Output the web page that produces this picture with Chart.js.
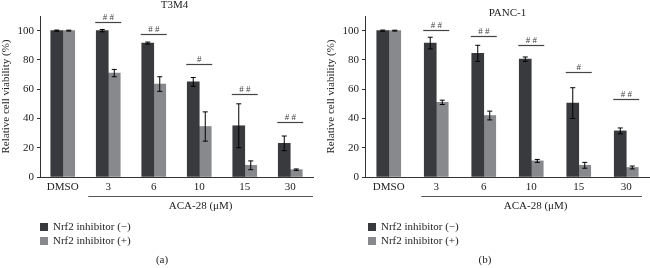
<!DOCTYPE html>
<html><head><meta charset="utf-8">
<script src="https://cdn.jsdelivr.net/npm/chart.js@4.4.1/dist/chart.umd.min.js"></script>
<style>
html,body{margin:0;padding:0;background:#fff;}
#wrap{position:relative;width:650px;height:268px;overflow:hidden;}
.pane{position:absolute;top:0;width:325px;height:268px;}
</style></head>
<body>
<div id="wrap">
<div class="pane" style="left:0"><canvas id="ca" width="325" height="268"></canvas></div>
<div class="pane" style="left:325px"><canvas id="cb" width="325" height="268"></canvas></div>
</div>
<script>
const categories = ["DMSO", "3", "6", "10", "15", "30"];
const seriesNames = ["Nrf2 inhibitor (\u2212)", "Nrf2 inhibitor (+)"];
const yTicks = [0, 20, 40, 60, 80, 100];

const t3m4Minus = [100, 100, 91.5, 65, 35, 23];
const t3m4MinusErr = [0.4, 0.8, 0.7, 3, 15, 5];
const t3m4Plus = [100, 71, 63.5, 34.5, 8, 5];
const t3m4PlusErr = [0.3, 2.5, 5, 10, 3, 0.5];
const t3m4Sig = ["", "# #", "# #", "#", "# #", "# #"];
const t3m4SigY = [null, 106, 98, 77, 57, 37.5];

const panc1Minus = [100, 91.5, 84.5, 80.5, 50.5, 31.5];
const panc1MinusErr = [0.4, 4, 5.5, 1.5, 10.5, 2];
const panc1Plus = [100, 51, 42, 11, 8, 6.5];
const panc1PlusErr = [0.3, 1.5, 3, 1, 2, 1];
const panc1Sig = ["", "# #", "# #", "# #", "#", "# #"];
const panc1SigY = [null, 100.5, 96.5, 90, 71.5, 53];

const DARK = "#393a3e", LIGHT = "#87898c";
const FONT = "'Liberation Serif', 'Times New Roman', serif";

const annot = {
  id: 'annot',
  afterDatasetsDraw(chart) {
    const o = chart.options.plugins.annot;
    const {ctx, scales: {x, y}, chartArea} = chart;
    ctx.save();
    // error bars
    chart.data.datasets.forEach((ds, i) => {
      const meta = chart.getDatasetMeta(i);
      meta.data.forEach((bar, j) => {
        const e = o.errs[i][j];
        const yt = y.getPixelForValue(ds.data[j] + e);
        const yb = y.getPixelForValue(ds.data[j] - e);
        ctx.strokeStyle = "#000"; ctx.lineWidth = 1;
        ctx.beginPath();
        ctx.moveTo(bar.x, yt); ctx.lineTo(bar.x, yb);
        ctx.moveTo(bar.x - 2.5, yt); ctx.lineTo(bar.x + 2.5, yt);
        ctx.moveTo(bar.x - 2.5, yb); ctx.lineTo(bar.x + 2.5, yb);
        ctx.stroke();
      });
    });
    // significance marks
    o.sig.forEach((s, j) => {
      if (!s) return;
      const cx = x.getPixelForValue(j);
      const py = Math.round(y.getPixelForValue(o.sigY[j])) + 0.5;
      ctx.strokeStyle = "#444"; ctx.lineWidth = 1.2;
      ctx.beginPath(); ctx.moveTo(cx - 13, py); ctx.lineTo(cx + 13, py); ctx.stroke();
      ctx.fillStyle = "#444"; ctx.font = "9px " + FONT;
      ctx.textAlign = "center"; ctx.textBaseline = "alphabetic";
      ctx.fillText(s, cx, py - 3);
    });
    // title
    ctx.fillStyle = "#222"; ctx.font = "11px " + FONT;
    ctx.textAlign = "center"; ctx.textBaseline = "middle";
    ctx.fillText(o.title, (chartArea.left + chartArea.right) / 2 + o.titleDx, o.titleY);
    // bracket under doses
    const bl = x.getPixelForValue(1) - o.brLeft;
    ctx.strokeStyle = "#555"; ctx.lineWidth = 1;
    ctx.beginPath(); ctx.moveTo(bl, 196.5); ctx.lineTo(chartArea.right - o.brRight, 196.5); ctx.stroke();
    ctx.fillStyle = "#222"; ctx.font = "11px " + FONT;
    ctx.textAlign = "center";
    ctx.fillText("ACA-28 (\u03bcM)", (bl + chartArea.right) / 2, 206);
    // legend
    ctx.textAlign = "left";
    [DARK, LIGHT].forEach((c, i) => {
      const ly = 227 + i * 14;
      ctx.fillStyle = c; ctx.fillRect(o.legX, ly - 4, 8, 8);
      ctx.fillStyle = "#222"; ctx.fillText(seriesNames[i], o.legX + 13, ly);
    });
    // caption
    ctx.textAlign = "center";
    ctx.fillText(o.caption, o.capX, 260);
    ctx.restore();
  }
};

function make(id, minus, minusErr, plus, plusErr, sig, sigY, extra) {
  return new Chart(document.getElementById(id), {
    type: 'bar',
    data: {
      labels: categories,
      datasets: [
        {label: seriesNames[0], data: minus, backgroundColor: DARK},
        {label: seriesNames[1], data: plus, backgroundColor: LIGHT}
      ]
    },
    options: {
      responsive: false, animation: false,
      devicePixelRatio: 1,
      layout: {padding: {top: 16, right: extra.padRight, bottom: 71, left: 0}},
      datasets: {bar: {barThickness: 12, categoryPercentage: 0.66, barPercentage: 0.9}},
      plugins: {
        legend: {display: false}, tooltip: {enabled: false}, title: {display: false},
        annot: Object.assign({errs: [minusErr, plusErr], sig, sigY}, extra)
      },
      scales: {
        x: {
          grid: {display: false, drawTicks: false},
          border: {display: true, color: "#333", width: 1},
          ticks: {color: "#222", font: {family: FONT, size: 11}, padding: 4, maxRotation: 0},
          afterFit(s) { s.height = 20; }
        },
        y: {
          min: 0, max: 110,
          afterBuildTicks(s) { s.ticks = yTicks.map(v => ({value: v})); },
          grid: {drawOnChartArea: false, drawTicks: true, tickLength: 3, color: "#333"},
          border: {display: true, color: "#333", width: 1},
          ticks: {color: "#222", font: {family: FONT, size: 11}, padding: 3},
          title: {display: true, text: "Relative cell viability (%)", color: "#222",
                  font: {family: FONT, size: 11}, padding: {top: 0, bottom: 2}},
          afterFit(s) { s.width = 40; }
        }
      }
    },
    plugins: [annot]
  });
}

make('ca', t3m4Minus, t3m4MinusErr, t3m4Plus, t3m4PlusErr, t3m4Sig, t3m4SigY,
  {padRight: 12, title: "T3M4", titleY: 5, titleDx: -2, brLeft: 20, brRight: 0, legX: 40, caption: "(a)", capX: 162});
make('cb', panc1Minus, panc1MinusErr, panc1Plus, panc1PlusErr, panc1Sig, panc1SigY,
  {padRight: 0, title: "PANC-1", titleY: 13, titleDx: 0, brLeft: 15, brRight: 8, legX: 43, caption: "(b)", capX: 160});
</script>
</body></html>
